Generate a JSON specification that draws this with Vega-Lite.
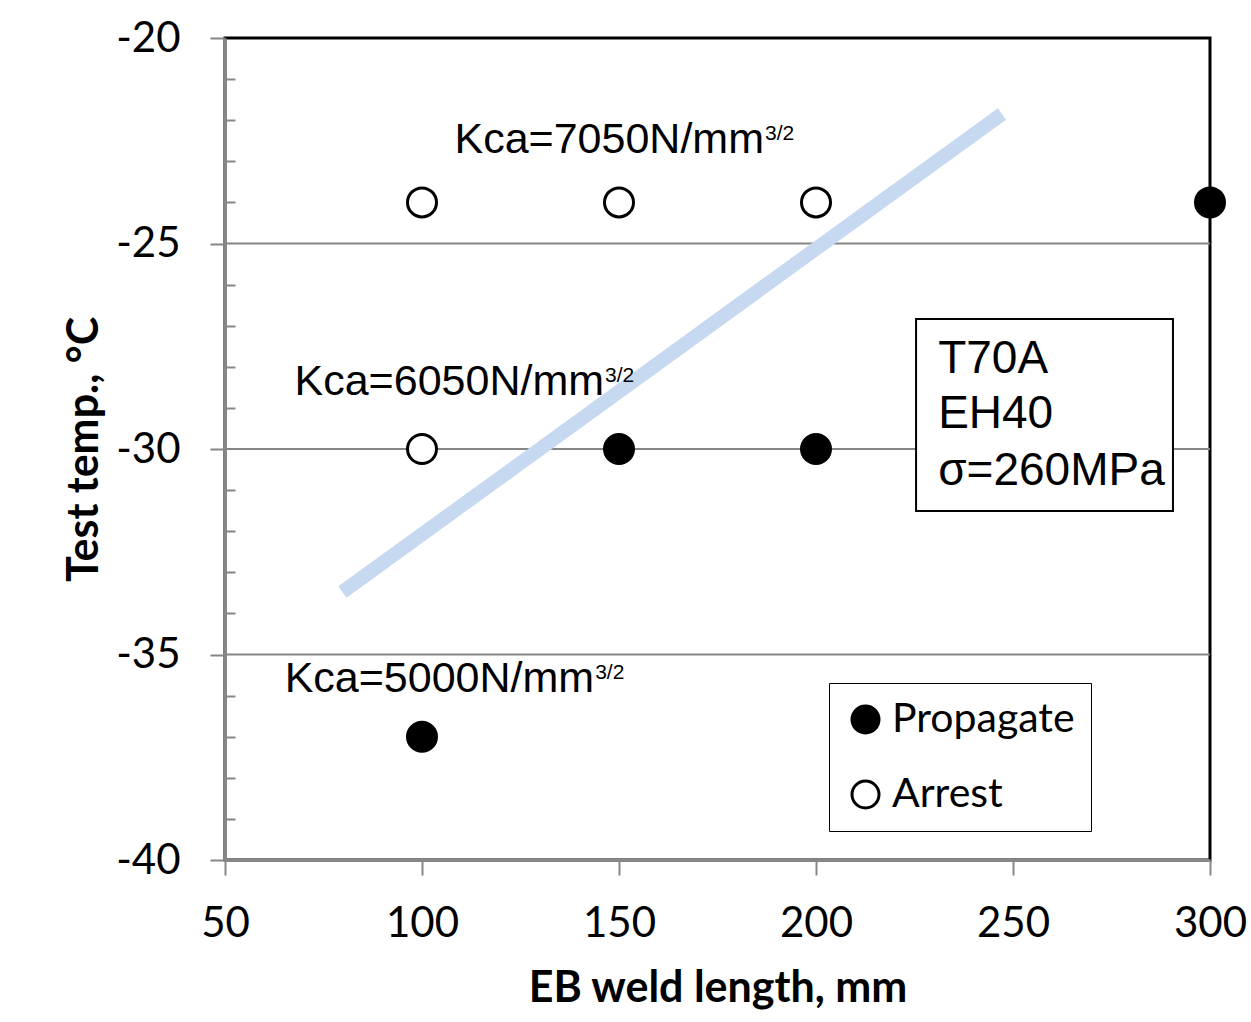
{
  "$schema": "https://vega.github.io/schema/vega-lite/v6.json",
  "width": 985,
  "height": 822,
  "autosize": "none",
  "padding": {"left": 225, "top": 38, "right": 41, "bottom": 162},
  "background": "white",
  "config": {"view": {"stroke": "black", "strokeWidth": 3}},
  "datasets": {
    "points": [
      {"len": 100, "t": -24, "result": "Arrest"},
      {"len": 150, "t": -24, "result": "Arrest"},
      {"len": 200, "t": -24, "result": "Arrest"},
      {"len": 300, "t": -24, "result": "Propagate"},
      {"len": 100, "t": -30, "result": "Arrest"},
      {"len": 150, "t": -30, "result": "Propagate"},
      {"len": 200, "t": -30, "result": "Propagate"},
      {"len": 100, "t": -37, "result": "Propagate"}
    ],
    "trend": [
      {"len": 79.8, "t": -33.48},
      {"len": 247.2, "t": -21.85}
    ],
    "grid": [{"t": -25}, {"t": -30}, {"t": -35}],
    "notes": [
      {"len": 186.8, "t": -22.8, "label": "Kca=7050N/mm", "sup": "3/2"},
      {"len": 146.2, "t": -28.69, "label": "Kca=6050N/mm", "sup": "3/2"},
      {"len": 143.7, "t": -35.91, "label": "Kca=5000N/mm", "sup": "3/2"}
    ],
    "boxtext": [
      {"len": 231, "t": -28.15, "label": "T70A"},
      {"len": 231, "t": -29.49, "label": "EH40"},
      {"len": 231, "t": -30.88, "label": "σ=260MPa"}
    ],
    "box": [{"len": 225.4, "len2": 290.6, "t": -26.84, "t2": -31.51}]
  },
  "resolve": {"axis": {"y": "independent"}},
  "layer": [
    {
      "data": {"name": "grid"},
      "mark": {"type": "rule", "color": "#868686", "strokeWidth": 2},
      "encoding": {
        "y": {
          "field": "t", "type": "quantitative",
          "scale": {"domain": [-40, -20], "nice": false},
          "axis": {
            "orient": "left",
            "values": [-21, -22, -23, -24, -26, -27, -28, -29, -31, -32, -33, -34, -36, -37, -38, -39],
            "tickSize": -10, "tickColor": "#868686", "tickWidth": 2,
            "labels": false, "domain": false, "grid": false, "title": null
          }
        }
      }
    },
    {
      "data": {"name": "trend"},
      "mark": {"type": "line", "color": "#c6d9f1", "strokeWidth": 14, "strokeCap": "butt"},
      "encoding": {
        "x": {"field": "len", "type": "quantitative"},
        "y": {"field": "t", "type": "quantitative", "axis": null}
      }
    },
    {
      "data": {"name": "box"},
      "mark": {"type": "rect", "fill": "white", "stroke": "black", "strokeWidth": 2},
      "encoding": {
        "x": {"field": "len", "type": "quantitative"},
        "x2": {"field": "len2"},
        "y": {"field": "t", "type": "quantitative", "axis": null},
        "y2": {"field": "t2"}
      }
    },
    {
      "data": {"name": "boxtext"},
      "mark": {"type": "text", "font": "Liberation Sans", "fontSize": 46, "align": "left", "baseline": "alphabetic", "color": "black"},
      "encoding": {
        "x": {"field": "len", "type": "quantitative"},
        "y": {"field": "t", "type": "quantitative", "axis": null},
        "text": {"field": "label"}
      }
    },
    {
      "data": {"name": "notes"},
      "mark": {"type": "text", "font": "Liberation Sans", "fontSize": 43, "align": "right", "baseline": "alphabetic", "color": "black"},
      "encoding": {
        "x": {"field": "len", "type": "quantitative"},
        "y": {"field": "t", "type": "quantitative", "axis": null},
        "text": {"field": "label"}
      }
    },
    {
      "data": {"name": "notes"},
      "mark": {"type": "text", "font": "Liberation Sans", "fontSize": 21, "align": "left", "baseline": "alphabetic", "dx": 1, "dy": -13, "color": "black"},
      "encoding": {
        "x": {"field": "len", "type": "quantitative"},
        "y": {"field": "t", "type": "quantitative", "axis": null},
        "text": {"field": "sup"}
      }
    },
    {
      "data": {"name": "points"},
      "mark": {"type": "point", "shape": "circle", "filled": true, "stroke": "black", "strokeWidth": 3, "size": 841, "opacity": 1},
      "encoding": {
        "x": {
          "field": "len", "type": "quantitative",
          "scale": {"domain": [50, 300], "nice": false},
          "axis": {
            "title": "EB weld length, mm",
            "values": [50, 100, 150, 200, 250, 300],
            "grid": false,
            "domainColor": "#868686", "domainWidth": 3,
            "tickColor": "#868686", "tickWidth": 2, "tickSize": 15,
            "labelFont": "Lato", "labelFontSize": 42, "labelColor": "black", "labelPadding": 28,
            "labelFlush": false, "labelOverlap": false,
            "titleFont": "Lato", "titleFontSize": 43, "titleFontWeight": "bold", "titleColor": "black",
            "titleY": 128, "titleBaseline": "middle"
          }
        },
        "y": {
          "field": "t", "type": "quantitative",
          "axis": {
            "orient": "left",
            "title": "Test temp., °C",
            "values": [-40, -35, -30, -25, -20],
            "labelExpr": "'' + datum.value",
            "grid": false,
            "domainColor": "#868686", "domainWidth": 3,
            "tickColor": "#868686", "tickWidth": 2, "tickSize": 15,
            "labelFont": "Lato", "labelFontSize": 42, "labelColor": "black", "labelPadding": 30,
            "labelFlush": false, "labelOverlap": false,
            "titleFont": "Lato", "titleFontSize": 43, "titleFontWeight": "bold", "titleColor": "black",
            "titleX": -141, "titleY": 411, "titleAngle": -90, "titleAlign": "center", "titleBaseline": "middle"
          }
        },
        "fill": {
          "field": "result", "type": "nominal",
          "scale": {"domain": ["Propagate", "Arrest"], "range": ["black", "white"]},
          "legend": {
            "orient": "none", "legendX": 604, "legendY": 645,
            "title": null,
            "strokeColor": "black", "fillColor": "white",
            "padding": 16,
            "labelFont": "Lato", "labelFontSize": 41, "labelColor": "black", "labelLimit": 400,
            "labelOffset": 6,
            "symbolType": "circle", "symbolSize": 730,
            "symbolStrokeColor": "black", "symbolStrokeWidth": 3,
            "rowPadding": 33,
            "encode": {"legend": {"update": {"strokeWidth": {"value": 2}}}}
          }
        }
      }
    }
  ]
}
